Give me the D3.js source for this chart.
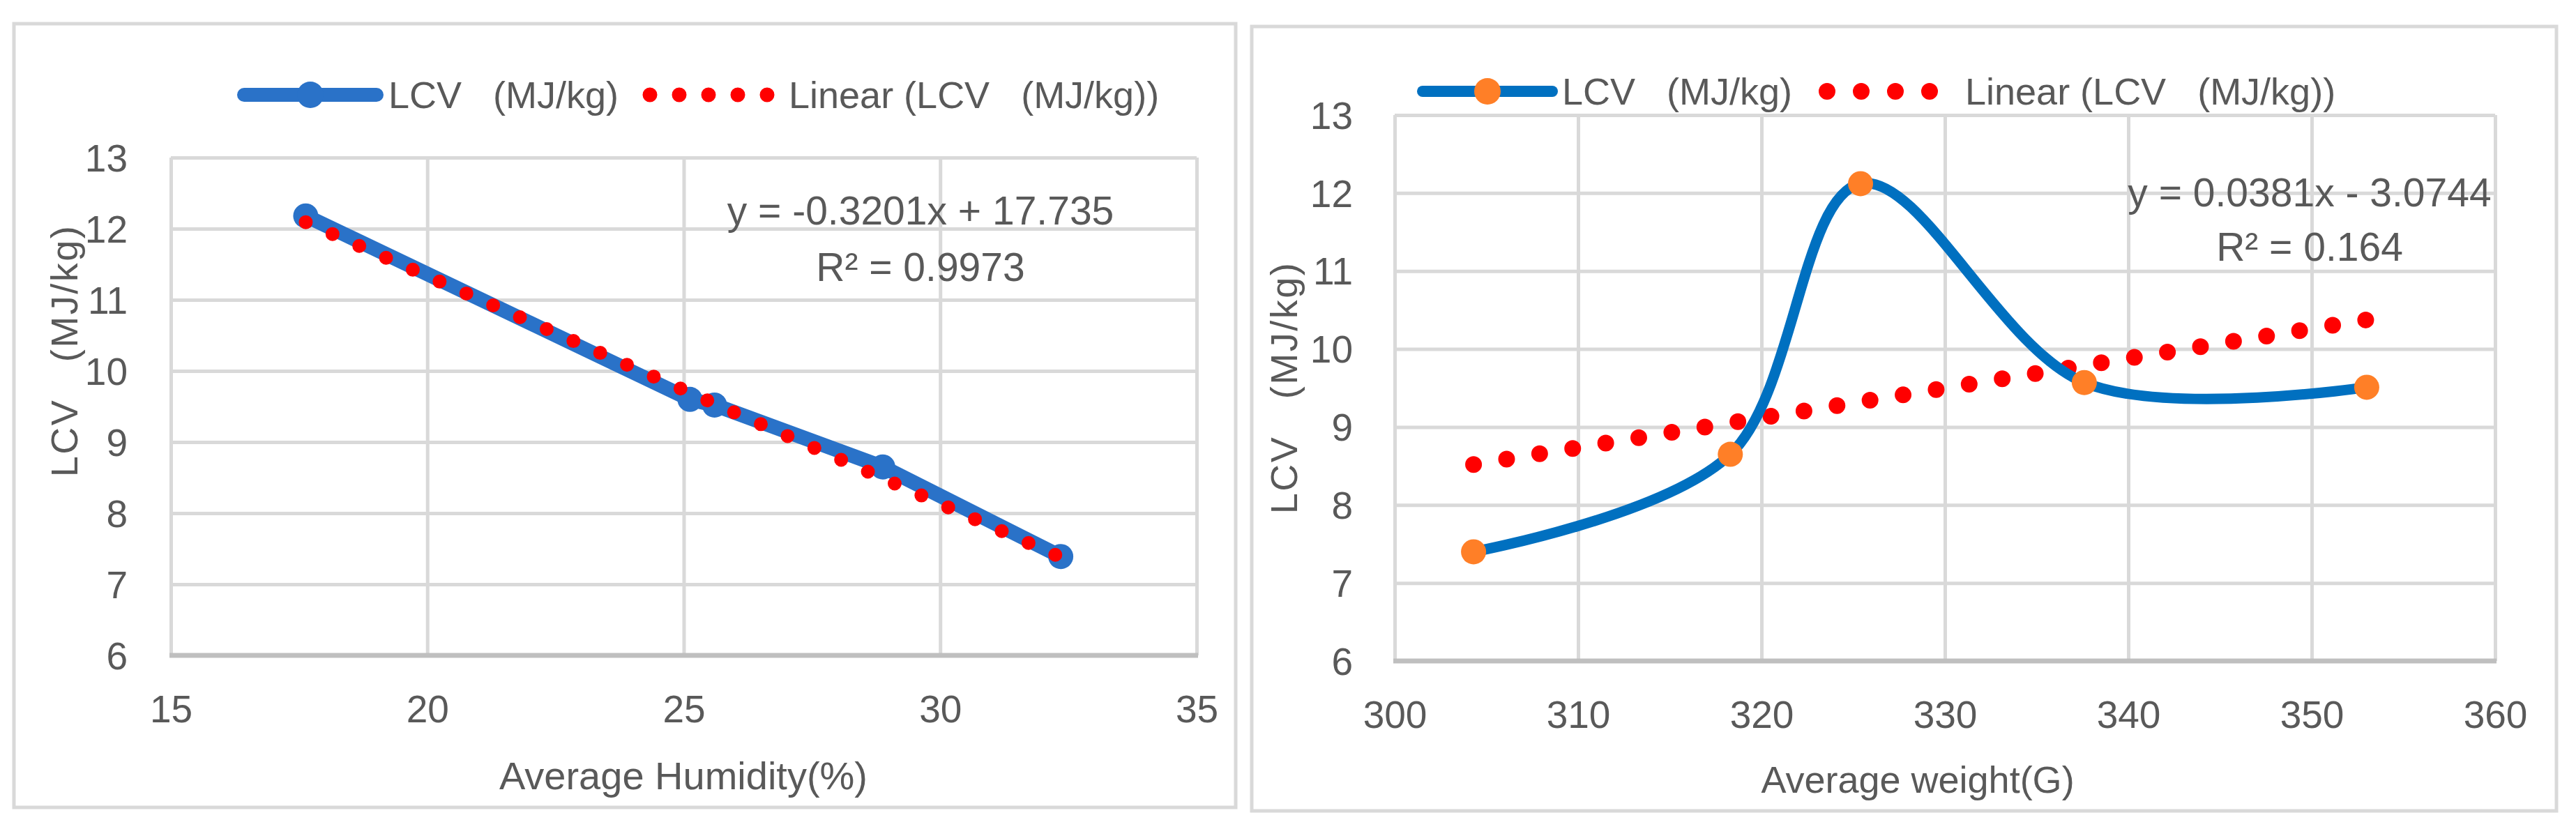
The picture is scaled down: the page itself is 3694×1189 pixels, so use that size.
<!DOCTYPE html>
<html>
<head>
<meta charset="utf-8">
<script src="https://cdn.jsdelivr.net/npm/d3@7"></script>
<style>
  html, body { margin: 0; padding: 0; background: #ffffff; }
  svg { display: block; }
  text { font-family: "Liberation Sans", Arial, sans-serif; fill: #595959; white-space: pre; }
</style>
</head>
<body>
<svg id="chart" width="3694" height="1189"></svg>
<script>
// ---------- data ----------
const humidity = [17.63, 25.12, 25.6, 28.88, 32.35];
const lcvByHumidity = [12.18, 9.60, 9.52, 8.65, 7.39];
const weight = [304.3, 318.3, 325.4, 337.6, 353.0];
const lcvByWeight = [7.40, 8.65, 12.12, 9.57, 9.51];

const humidityTicks = [15, 20, 25, 30, 35];
const weightTicks = [300, 310, 320, 330, 340, 350, 360];
const lcvTicks = [6, 7, 8, 9, 10, 11, 12, 13];

const trendHumidityCoef = [-0.3201, 17.735];   // slope, intercept
const trendWeightCoef = [0.0381, -3.0744];
const equationHumidity = ["y = -0.3201x + 17.735", "R² = 0.9973"];
const equationWeight = ["y = 0.0381x - 3.0744", "R² = 0.164"];

const seriesName = "LCV   (MJ/kg)";
const trendName = "Linear (LCV   (MJ/kg))";
const yTitle = "LCV   (MJ/kg)";
const xTitleHumidity = "Average Humidity(%)";
const xTitleWeight = "Average weight(G)";

// ---------- drawing ----------
const svg = d3.select("#chart");

function drawChart(o) {
  const g = svg.append("g");
  g.append("rect").attr("x", o.box[0]).attr("y", o.box[1])
    .attr("width", o.box[2] - o.box[0]).attr("height", o.box[3] - o.box[1])
    .attr("fill", "#fff").attr("stroke", "#d9d9d9").attr("stroke-width", 5);

  const x = d3.scaleLinear().domain(o.xDomain).range([o.plot[0], o.plot[1]]);
  const y = d3.scaleLinear().domain([6, 13]).range([o.plot[3], o.plot[2]]);
  const h = o.plot[3] - o.plot[2];
  const w = o.plot[1] - o.plot[0];

  const xa = g.append("g").attr("transform", `translate(0,${o.plot[3]})`)
    .call(d3.axisBottom(x).tickValues(o.xTicks).tickSize(-h).tickPadding(0).tickFormat(d3.format("d")));
  xa.select(".domain").remove();
  xa.selectAll(".tick line").attr("stroke", "#d9d9d9").attr("stroke-width", 5);
  xa.selectAll(".tick text").attr("y", o.xLabelY - o.plot[3]).attr("dy", "0.35em")
    .attr("font-size", 55).attr("fill", "#595959");

  const ya = g.append("g").attr("transform", `translate(${o.plot[0]},0)`)
    .call(d3.axisLeft(y).tickValues(lcvTicks).tickSize(-w).tickPadding(0).tickFormat(d3.format("d")));
  ya.select(".domain").remove();
  ya.selectAll(".tick line").attr("stroke", "#d9d9d9").attr("stroke-width", 5);
  ya.selectAll(".tick text").attr("x", o.yLabelRight - o.plot[0]).attr("dy", "0.35em")
    .attr("font-size", 55).attr("fill", "#595959");

  g.append("line").attr("x1", o.plot[0] - 2).attr("x2", o.plot[1] + 2)
    .attr("y1", y(6)).attr("y2", y(6)).attr("stroke", "#bfbfbf").attr("stroke-width", 7);

  g.append("text").attr("x", o.xTitle[0]).attr("y", o.xTitle[1]).attr("dy", "0.35em")
    .attr("text-anchor", "middle").attr("font-size", o.xTitleSize).text(o.xTitleText);
  g.append("text").attr("transform", `translate(${o.yTitle[0]},${o.yTitle[1]}) rotate(-90)`)
    .attr("dy", "0.35em").attr("text-anchor", "middle").attr("font-size", 54)
    .attr("letter-spacing", 2.5).text(yTitle);

  const xs = d3.extent(o.xs);
  const trendPts = xs.map(v => [v, o.coef[0] * v + o.coef[1]]);
  const straight = d3.line().x(d => x(d[0])).y(d => y(d[1]));

  const data = o.xs.map((v, i) => [v, o.ys[i]]);
  const seriesLine = d3.line().x(d => x(d[0])).y(d => y(d[1])).curve(o.curve);

  function drawTrend() {
    g.append("path").attr("d", straight(trendPts)).attr("fill", "none").attr("stroke", "#ff0000")
      .attr("stroke-width", o.dotSize).attr("stroke-linecap", "round")
      .attr("stroke-dasharray", `0 ${o.dotGap}`);
  }
  function drawSeries() {
    g.append("path").attr("d", seriesLine(data)).attr("fill", "none")
      .attr("stroke", o.lineColor).attr("stroke-width", o.lineWidth).attr("stroke-linejoin", "round");
    g.selectAll(".mk").data(data).join("circle").attr("cx", d => x(d[0])).attr("cy", d => y(d[1]))
      .attr("r", o.markerR).attr("fill", o.markerColor);
  }
  if (o.trendOnTop) { drawSeries(); drawTrend(); } else { drawTrend(); drawSeries(); }

  g.append("text").attr("x", o.eq[0]).attr("y", o.eq[1]).attr("dy", "0.35em")
    .attr("text-anchor", "middle").attr("font-size", 57).text(o.eqText[0]);
  g.append("text").attr("x", o.eq[0]).attr("y", o.eq[2]).attr("dy", "0.35em")
    .attr("text-anchor", "middle").attr("font-size", 57).text(o.eqText[1]);

  const L = o.legend;
  g.append("line").attr("x1", L.lineX[0]).attr("x2", L.lineX[1]).attr("y1", L.y).attr("y2", L.y)
    .attr("stroke", o.lineColor).attr("stroke-width", L.lineW).attr("stroke-linecap", "round");
  g.append("circle").attr("cx", (L.lineX[0] + L.lineX[1]) / 2).attr("cy", L.y).attr("r", L.markerR)
    .attr("fill", o.markerColor);
  g.append("text").attr("x", L.text1X).attr("y", L.y).attr("dy", "0.35em").attr("font-size", 54).text(seriesName);
  g.append("line").attr("x1", L.dotsX[0]).attr("x2", L.dotsX[1] + 1).attr("y1", L.y).attr("y2", L.y)
    .attr("stroke", "#ff0000").attr("stroke-width", L.dotSize).attr("stroke-linecap", "round")
    .attr("stroke-dasharray", `0 ${L.dotGap}`);
  g.append("text").attr("x", L.text2X).attr("y", L.y).attr("dy", "0.35em").attr("font-size", 54).text(trendName);
}

drawChart({
  box: [20, 34, 1772, 1158],
  plot: [245, 1716, 226, 940],
  xDomain: [15, 35], xTicks: humidityTicks,
  xLabelY: 1017, yLabelRight: 183,
  xTitle: [980, 1112], xTitleText: xTitleHumidity, xTitleSize: 56,
  yTitle: [92, 503],
  xs: humidity, ys: lcvByHumidity, coef: trendHumidityCoef,
  curve: d3.curveLinear,
  lineColor: "#2a72c8", markerColor: "#2a72c8", lineWidth: 21, markerR: 18,
  dotSize: 20, dotGap: 42, trendOnTop: true,
  eq: [1320, 302, 383], eqText: equationHumidity,
  legend: { y: 136, lineX: [350, 540], lineW: 20, markerR: 19, text1X: 557,
            dotsX: [932, 1100], dotSize: 21, dotGap: 42, text2X: 1131 }
});

drawChart({
  box: [1795, 38, 3666, 1163],
  plot: [2000, 3578, 165, 948],
  xDomain: [300, 360], xTicks: weightTicks,
  xLabelY: 1025, yLabelRight: 1940,
  xTitle: [2750, 1118], xTitleText: xTitleWeight, xTitleSize: 54,
  yTitle: [1841, 556],
  xs: weight, ys: lcvByWeight, coef: trendWeightCoef,
  curve: d3.curveCardinal.tension(0),
  lineColor: "#0070c0", markerColor: "#ff7f27", lineWidth: 15, markerR: 18,
  dotSize: 24, dotGap: 48, trendOnTop: false,
  eq: [3312, 276, 354], eqText: equationWeight,
  legend: { y: 131, lineX: [2040, 2226], lineW: 16, markerR: 19, text1X: 2240,
            dotsX: [2620, 2767], dotSize: 24, dotGap: 49, text2X: 2818 }
});
</script>
</body>
</html>
